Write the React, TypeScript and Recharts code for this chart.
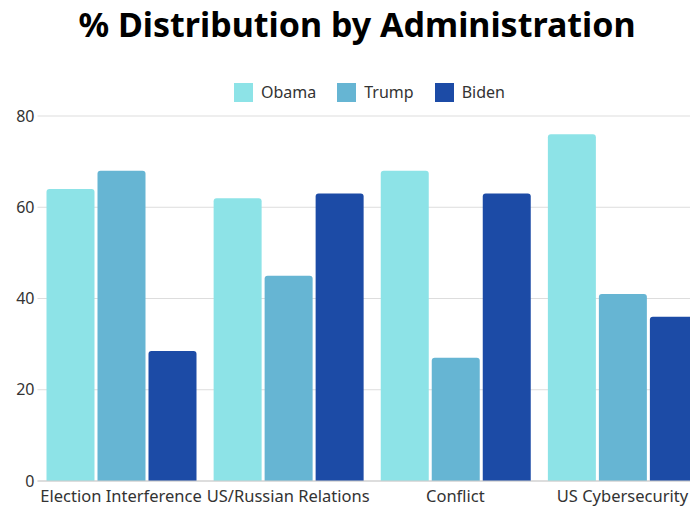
import React from "react";
import { BarChart, Bar, XAxis, YAxis, CartesianGrid } from "recharts";

const categories = ["Election Interference", "US/Russian Relations", "Conflict", "US Cybersecurity"];
const obama = [64, 62, 68, 76];
const trump = [68, 45, 27, 41];
const biden = [28.5, 63, 63, 36];
const yTicks = [0, 20, 40, 60, 80];

const series = [
  { key: "Obama", values: obama, color: "#8DE3E7" },
  { key: "Trump", values: trump, color: "#66B5D3" },
  { key: "Biden", values: biden, color: "#1C4BA6" },
];

const data = categories.map((c, i) => ({
  name: c,
  Obama: obama[i],
  Trump: trump[i],
  Biden: biden[i],
}));

const FONT = "'Noto Sans', 'Open Sans', sans-serif";

export default function App() {
  return (
    <div style={{ position: "fixed", left: 0, top: 0, width: 690, height: 508, overflow: "hidden", background: "#fff" }}>
      <div
        style={{
          position: "absolute",
          left: 0,
          top: 0,
          width: 714,
          textAlign: "center",
          fontFamily: FONT,
          fontWeight: 700,
          fontSize: 34,
          lineHeight: "48px",
          color: "#000",
        }}
      >
        % Distribution by Administration
      </div>
      <div style={{ position: "absolute", left: 234, top: 83, display: "flex", fontFamily: FONT, fontSize: 16, color: "#333" }}>
        {series.map((s) => (
          <div key={s.key} style={{ display: "flex", alignItems: "center", marginRight: 21 }}>
            <div style={{ width: 19, height: 19, background: s.color, marginRight: 8 }} />
            <span style={{ lineHeight: "19px" }}>{s.key}</span>
          </div>
        ))}
      </div>
      <div style={{ position: "absolute", left: 0, top: 0 }}>
        <BarChart
          width={706}
          height={508}
          data={data}
          margin={{ top: 116, right: 0, bottom: 0, left: 0 }}
          barCategoryGap={17}
          barGap={3}
        >
          <CartesianGrid vertical={false} stroke="#dddddd" />
          <XAxis
            dataKey="name"
            height={27}
            tickLine={false}
            axisLine={{ stroke: "#cccccc" }}
            tickSize={0}
            tickMargin={9}
            interval={0}
            tick={{ fill: "#333", fontSize: 16.5, fontFamily: FONT }}
          />
          <YAxis
            width={37.5}
            domain={[0, 80]}
            ticks={yTicks}
            tickLine={false}
            axisLine={false}
            tickSize={0}
            tickMargin={3}
            tick={{ fill: "#333", fontSize: 16, fontFamily: FONT }}
          />
          {series.map((s) => (
            <Bar key={s.key} dataKey={s.key} fill={s.color} barSize={48} radius={[3, 3, 0, 0]} isAnimationActive={false} />
          ))}
        </BarChart>
      </div>
    </div>
  );
}
